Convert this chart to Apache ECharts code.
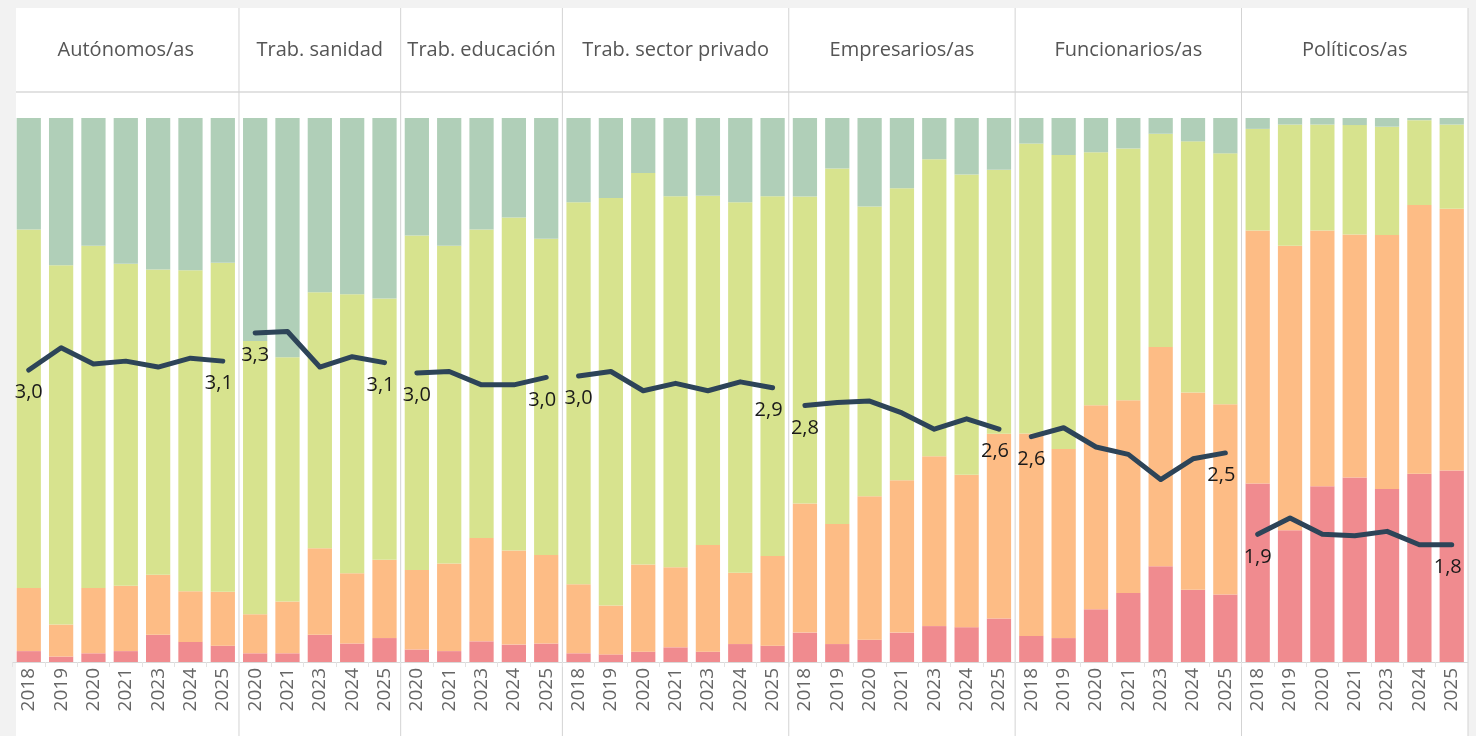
<!DOCTYPE html>
<html>
<head>
<meta charset="utf-8">
<script src="https://cdn.jsdelivr.net/npm/echarts@6/dist/echarts.min.js"></script>
<style>
  html, body { margin: 0; padding: 0; background: #f2f2f2; }
  #main { width: 1476px; height: 736px; }
</style>
</head>
<body>
<div id="main"></div>
<script>
// grupos y años de cada panel
var grupos = ['Autónomos/as', 'Trab. sanidad', 'Trab. educación', 'Trab. sector privado', 'Empresarios/as', 'Funcionarios/as', 'Políticos/as'];
var anios = [
  ['2018', '2019', '2020', '2021', '2023', '2024', '2025'],
  ['2020', '2021', '2023', '2024', '2025'],
  ['2020', '2021', '2023', '2024', '2025'],
  ['2018', '2019', '2020', '2021', '2023', '2024', '2025'],
  ['2018', '2019', '2020', '2021', '2023', '2024', '2025'],
  ['2018', '2019', '2020', '2021', '2023', '2024', '2025'],
  ['2018', '2019', '2020', '2021', '2023', '2024', '2025']
];
// porcentajes (de abajo a arriba)
var muyMala = [
  [2.0, 1.0, 1.6, 2.0, 5.0, 3.7, 3.0],
  [1.6, 1.6, 5.0, 3.4, 4.4],
  [2.3, 2.0, 3.8, 3.2, 3.4],
  [1.6, 1.4, 1.9, 2.7, 1.9, 3.3, 3.0],
  [5.4, 3.3, 4.1, 5.4, 6.6, 6.4, 8.0],
  [4.8, 4.4, 9.7, 12.7, 17.6, 13.3, 12.4],
  [32.8, 24.2, 32.3, 33.9, 31.8, 34.6, 35.2]
];
var mala = [
  [11.6, 5.9, 12.0, 12.0, 11.0, 9.3, 9.9],
  [7.2, 9.5, 15.9, 12.9, 14.4],
  [14.6, 16.1, 19.0, 17.3, 16.3],
  [12.7, 9.0, 16.0, 14.7, 19.6, 13.1, 16.5],
  [23.7, 22.1, 26.4, 28.0, 31.2, 28.0, 34.0],
  [37.2, 34.8, 37.5, 35.4, 40.3, 36.3, 35.0],
  [46.5, 52.3, 47.0, 44.7, 46.7, 49.4, 48.1]
];
var buena = [
  [65.9, 66.1, 62.9, 59.2, 56.1, 59.1, 60.5],
  [50.2, 44.9, 47.0, 51.3, 48.0],
  [61.5, 58.4, 56.7, 61.2, 58.2],
  [70.2, 74.9, 72.0, 68.2, 64.2, 68.2, 66.1],
  [56.4, 65.4, 53.3, 53.7, 54.6, 55.2, 48.6],
  [53.3, 54.1, 46.5, 46.3, 39.2, 46.2, 46.1],
  [18.7, 22.3, 19.5, 20.1, 19.9, 15.6, 15.5]
];
var muyBuena = [
  [20.5, 27.1, 23.5, 26.8, 27.8, 28.0, 26.6],
  [41.0, 44.0, 32.0, 32.4, 33.2],
  [21.6, 23.5, 20.5, 18.3, 22.2],
  [15.5, 14.7, 10.1, 14.4, 14.3, 15.5, 14.4],
  [14.4, 9.3, 16.3, 12.9, 7.6, 10.4, 9.5],
  [4.7, 6.8, 6.3, 5.6, 2.9, 4.3, 6.5],
  [2.0, 1.2, 1.2, 1.3, 1.6, 0.4, 1.2]
];
// valoración media
var media = [
  [3.02, 3.17, 3.06, 3.08, 3.04, 3.10, 3.08],
  [3.27, 3.28, 3.04, 3.11, 3.07],
  [3.00, 3.01, 2.92, 2.92, 2.97],
  [2.98, 3.01, 2.88, 2.93, 2.88, 2.94, 2.90],
  [2.78, 2.80, 2.81, 2.73, 2.62, 2.69, 2.62],
  [2.57, 2.63, 2.50, 2.45, 2.28, 2.42, 2.46],
  [1.91, 2.02, 1.91, 1.90, 1.93, 1.84, 1.84]
];

var capas = [
  { nombre: 'Muy mala', datos: muyMala, color: '#f08b8f' },
  { nombre: 'Mala', datos: mala, color: '#fdbc85' },
  { nombre: 'Buena', datos: buena, color: '#d7e38e' },
  { nombre: 'Muy buena', datos: muyBuena, color: '#b0cfb8' }
];

var myChart = echarts.init(document.getElementById('main'));

var x0 = 12.6, banda = 32.34, arriba = 118, abajo = 662;
var fuente = "'Open Sans', 'Noto Sans', sans-serif";
var grids = [], xAxes = [], yAxes = [], series = [];
var graficos = [
  { type: 'rect', shape: { x: 16, y: 8, width: 1452, height: 728 }, style: { fill: '#fff' }, z: -10 },
  { type: 'line', shape: { x1: 16, y1: 92, x2: 1468, y2: 92 }, style: { stroke: '#d9d9d9', lineWidth: 1.5 }, z: -5 }
];
var inicio = 0;

grupos.forEach(function (g, i) {
  var n = anios[i].length;
  var izq = x0 + inicio * banda;
  var ancho = n * banda;
  grids.push({ left: izq, top: arriba, width: ancho, height: abajo - arriba });
  xAxes.push({
    type: 'category', gridIndex: i, data: anios[i],
    axisLine: { lineStyle: { color: '#d9d9d9' } },
    axisTick: { show: true, length: 5, lineStyle: { color: '#e3e3e3' } },
    axisLabel: { rotate: 90, interval: 0, margin: 6, color: '#666', fontSize: 19, fontFamily: fuente }
  });
  yAxes.push({ type: 'value', gridIndex: i, min: 0, max: 100, show: false });
  yAxes.push({ type: 'value', gridIndex: i, min: 1.0475, max: 4.7225, show: false });

  // barras apiladas al 100%
  capas.forEach(function (c) {
    series.push({
      name: c.nombre, type: 'bar', xAxisIndex: i, yAxisIndex: 2 * i, stack: 'p' + i,
      barWidth: '75%',
      itemStyle: { color: c.color },
      data: c.datos[i].map(function (v, k) {
        var total = muyMala[i][k] + mala[i][k] + buena[i][k] + muyBuena[i][k];
        return v / total * 100;
      })
    });
  });

  // línea de la media con etiqueta en el primer y último año
  series.push({
    name: 'Media', type: 'line', xAxisIndex: i, yAxisIndex: 2 * i + 1, z: 5,
    symbol: 'circle', symbolSize: 1,
    itemStyle: { color: '#2d4458' },
    lineStyle: { color: '#2d4458', width: 5, cap: 'round', join: 'round' },
    label: {
      show: false, position: 'bottom', distance: 12, color: '#1a1a1a', fontSize: 20, fontFamily: fuente,
      formatter: function (p) { return p.value.toFixed(1).replace('.', ','); }
    },
    data: media[i].map(function (v, k) {
      if (k === 0) return { value: v, label: { show: true } };
      if (k === n - 1) return { value: v, label: { show: true, offset: [-4, 0] } };
      return v;
    })
  });

  // cabecera y separador
  graficos.push({
    type: 'text', x: izq + ancho / 2, y: 50,
    style: { text: g, fill: '#555', font: "20px 'Open Sans', 'Noto Sans', sans-serif", textAlign: 'center', textVerticalAlign: 'middle' }
  });
  if (i > 0) {
    graficos.push({ type: 'line', shape: { x1: izq, y1: 8, x2: izq, y2: 736 }, style: { stroke: '#d3d3d3', lineWidth: 1 }, z: -5 });
  }
  inicio += n;
});
graficos.push({ type: 'line', shape: { x1: 1468, y1: 8, x2: 1468, y2: 736 }, style: { stroke: '#d3d3d3', lineWidth: 1 }, z: -5 });

var option = {
  animation: false,
  backgroundColor: '#f2f2f2',
  graphic: graficos,
  grid: grids,
  xAxis: xAxes,
  yAxis: yAxes,
  series: series
};

myChart.setOption(option);
</script>
</body>
</html>
